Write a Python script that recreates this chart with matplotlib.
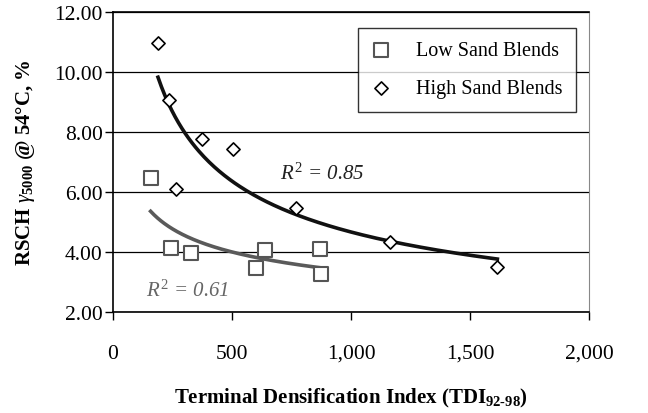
import numpy as np
import matplotlib
matplotlib.use("Agg")
import matplotlib.pyplot as plt

# TDI vs RSCH strain, two blend groups
low_tdi = [158, 242, 326, 602, 640, 868, 875]
low_rsch = [6.46, 4.15, 3.96, 3.47, 4.09, 4.10, 3.26]
high_tdi = [189, 235, 266, 374, 503, 770, 1165, 1615]
high_rsch = [10.95, 9.06, 6.12, 7.76, 7.43, 5.48, 4.35, 3.52]
low_r2 = "0.61"
high_r2 = "0.85"

plt.rcParams['font.family'] = ['Liberation Serif', 'DejaVu Serif']
plt.rcParams['mathtext.fontset'] = 'custom'
plt.rcParams['mathtext.rm'] = 'Liberation Serif'
plt.rcParams['mathtext.it'] = 'Liberation Serif:italic'
plt.rcParams['mathtext.bf'] = 'Liberation Serif:bold'

fig = plt.figure(figsize=(6.48, 4.14), dpi=100)
ax = fig.add_axes([0.1744, 0.2432, 0.7346, 0.7258])


def power_fit(x, y):
    # least squares on log-log, like a spreadsheet power trendline
    b, lna = np.polyfit(np.log(x), np.log(y), 1)
    xs = np.linspace(min(x), max(x), 200)
    return xs, np.exp(lna) * xs ** b


xs, ys = power_fit(high_tdi, high_rsch)
ax.plot(xs, ys, color='#111111', lw=2.6, zorder=2)
xs, ys = power_fit(low_tdi, low_rsch)
ax.plot(xs, ys, color='#5a5a5a', lw=2.6, zorder=2)

ax.scatter(low_tdi, low_rsch, marker='s', s=95, facecolor='white',
           edgecolor='#555555', linewidth=1.5, zorder=3, label='Low Sand Blends')
ax.scatter(high_tdi, high_rsch, marker='D', s=45, facecolor='white',
           edgecolor='black', linewidth=1.2, zorder=3, label='High Sand Blends')

ax.set_xlim(0, 2000)
ax.set_ylim(2, 12)
ax.set_xticks([0, 500, 1000, 1500, 2000])
ax.set_xticklabels(['0', '500', '1,000', '1,500', '2,000'])
ax.set_yticks([2, 4, 6, 8, 10, 12])
ax.set_yticklabels(['%.2f' % v for v in [2, 4, 6, 8, 10, 12]])
ax.yaxis.grid(True, color='black', lw=0.9)
ax.set_axisbelow(True)
ax.tick_params(axis='both', labelsize=15.5, direction='out', length=5.5, width=1)
ax.tick_params(axis='x', pad=17)
ax.tick_params(axis='y', pad=2)
for s in ['left', 'bottom', 'top']:
    ax.spines[s].set_color('black')
    ax.spines[s].set_linewidth(1.2)
ax.spines['right'].set_color('#888888')

ax.set_xlabel(r'Terminal Densification Index (TDI$_{\mathbf{92\text{-}98}}$)',
              fontsize=15, fontweight='bold', labelpad=17)
ax.set_ylabel(r'RSCH $\gamma_{\mathbf{5000}}$ @ 54°C, %', fontsize=15,
              fontweight='bold', labelpad=12)

ax.text(700, 6.45, r'$R^2$ = ' + high_r2, fontsize=15, style='italic',
        color='#222222')
ax.text(140, 2.55, r'$R^2$ = ' + low_r2, fontsize=15, style='italic',
        color='#666666')

leg = ax.legend(loc='upper right', bbox_to_anchor=(0.972, 0.946), fontsize=14.5,
                frameon=True, fancybox=False, edgecolor='black',
                handlelength=1.0, handletextpad=1.25, borderpad=0.65,
                labelspacing=0.95, borderaxespad=0)
leg.get_frame().set_linewidth(1.0)

fig.savefig('out.png', dpi=100)
